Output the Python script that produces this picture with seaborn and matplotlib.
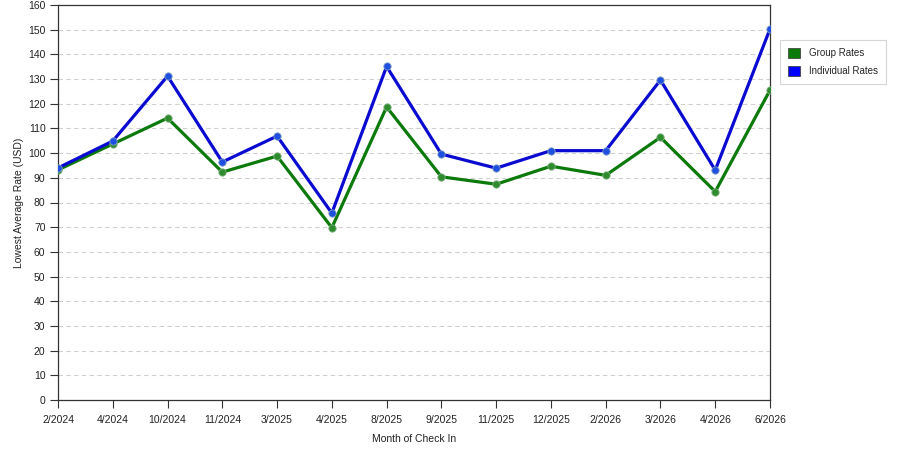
import pandas as pd
import numpy as np
import matplotlib.pyplot as plt
import seaborn as sns
from matplotlib.patches import Patch

months = ['2/2024', '4/2024', '10/2024', '11/2024', '3/2025', '4/2025', '8/2025',
          '9/2025', '11/2025', '12/2025', '2/2026', '3/2026', '4/2026', '6/2026']
group_rates = [93.2, 103.7, 114.2, 92.3, 98.8, 69.8, 118.7,
               90.4, 87.4, 94.7, 91.0, 106.4, 84.4, 125.5]
individual_rates = [94.0, 104.9, 131.2, 96.4, 106.9, 75.7, 135.1,
                    99.6, 93.9, 101.0, 101.0, 129.6, 93.1, 150.3]

df = pd.DataFrame({
    'month': months * 2,
    'rate': group_rates + individual_rates,
    'series': ['Group Rates'] * len(months) + ['Individual Rates'] * len(months),
})

sns.set_style("white")
plt.rcParams['font.family'] = ['Liberation Sans', 'DejaVu Sans']

fig = plt.figure(figsize=(9, 4.5), dpi=100)
ax = fig.add_axes([58/900, 50/450, 712/900, 395/450])

line_colors = {'Group Rates': '#0b7a0b', 'Individual Rates': '#0a0ad0'}
marker_colors = {'Group Rates': '#2e8b2e', 'Individual Rates': '#1f4fe0'}

sns.lineplot(data=df, x='month', y='rate', hue='series', palette=line_colors,
             linewidth=2.3, legend=False, ax=ax, sort=False)
for name, sub in df.groupby('series'):
    ax.scatter(range(len(sub)), sub['rate'], s=28, color=marker_colors[name],
               edgecolor='#7fa0c0' if name == 'Individual Rates' else '#80b080',
               linewidth=0.6, zorder=5)

ax.set_xlim(0, len(months) - 1)
ax.set_ylim(0, 160)
ax.set_yticks(np.arange(0, 161, 10))
ax.set_xticks(range(len(months)))
ax.set_xticklabels(months)
ax.tick_params(axis='both', labelsize=7.5, direction='out', length=6, width=0.8,
               color='#333333', labelcolor='#222222', pad=3, left=True, bottom=True)
ax.tick_params(axis='x', pad=5)
ax.yaxis.grid(True, linestyle=(0, (4, 3)), color='#d0d0d0', linewidth=0.8)
ax.xaxis.grid(False)
for s in ax.spines.values():
    s.set_color('#333333')
    s.set_linewidth(0.9)

ax.set_xlabel('Month of Check In', fontsize=7.5, labelpad=6, color='#222222')
ax.set_ylabel('Lowest Average Rate (USD)', fontsize=7.5, labelpad=3, color='#222222')

handles = [Patch(facecolor='#0b7a0b', edgecolor='#333333', linewidth=0.5, label='Group Rates'),
           Patch(facecolor='#0000ff', edgecolor='#333333', linewidth=0.5, label='Individual Rates')]
leg = fig.legend(handles=handles, loc='upper left', bbox_to_anchor=(780/900, 1 - 40/450),
                 fontsize=7, frameon=True, fancybox=False, handlelength=1.3,
                 handleheight=1.3, borderpad=0.8, labelspacing=0.75, handletextpad=0.9,
                 borderaxespad=0)
leg.get_frame().set_edgecolor('#cccccc')
leg.get_frame().set_linewidth(0.8)

fig.savefig('out.png', dpi=100)
